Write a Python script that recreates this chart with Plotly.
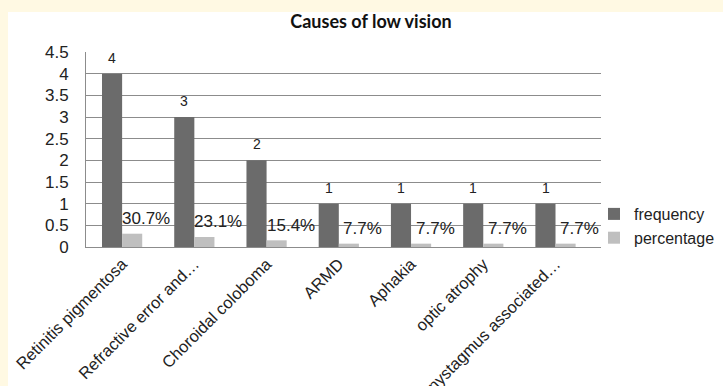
import plotly.graph_objects as go

categories = ["Retinitis pigmentosa", "Refractive error and…", "Choroidal coloboma",
              "ARMD", "Aphakia", "optic atrophy", "nystagmus associated…"]
frequency = [4, 3, 2, 1, 1, 1, 1]
percentage = [0.307, 0.231, 0.154, 0.077, 0.077, 0.077, 0.077]
percentage_labels = ["30.7%", "23.1%", "15.4%", "7.7%", "7.7%", "7.7%", "7.7%"]
y_ticks = [0, 0.5, 1, 1.5, 2, 2.5, 3, 3.5, 4, 4.5]

W, H = 723, 386
L, R, T, B = 86, 601, 52, 247
CREAM = "#fff9e3"

fig = go.Figure()
fig.add_trace(go.Bar(x=categories, y=frequency, name="frequency",
                     marker=dict(color="#6b6b6b", line=dict(width=0))))
fig.add_trace(go.Bar(x=categories, y=percentage, name="percentage",
                     marker=dict(color="#bfbfbf", line=dict(width=0))))

font = "Liberation Sans, Arial, sans-serif"
pw = R - L
ph = B - T
def px_x(x):
    return (x - L) / pw
def px_y(y):
    return (B - y) / ph

annotations = []
for c, v in zip(categories, frequency):
    annotations.append(dict(x=c, y=v, xref="x", yref="y", text=str(v), showarrow=False,
                            xshift=-10, yshift=16, yanchor="middle",
                            font=dict(family=font, size=14, color="#222")))
for c, v, t in zip(categories, percentage, percentage_labels):
    annotations.append(dict(x=c, y=v, xref="x", yref="y", text=t, showarrow=False,
                            xshift=24, yshift=15, yanchor="middle",
                            font=dict(family=font, size=17, color="#222")))

fig.update_layout(
    width=W, height=H,
    margin=dict(l=L, r=W - R, t=T, b=H - B, pad=0, autoexpand=False),
    paper_bgcolor="white",
    plot_bgcolor="white",
    barmode="group", bargap=0.443, bargroupgap=0,
    title=dict(text="<b>Causes of low vision</b>", x=371 / W, xref="container", xanchor="center",
               y=1 - 22 / H, yanchor="middle",
               font=dict(family="Lato, sans-serif", size=18, color="#111")),
    shapes=[
        dict(type="rect", xref="paper", yref="paper", x0=px_x(-5), x1=px_x(W + 5),
             y0=px_y(12), y1=px_y(-5), fillcolor=CREAM, line=dict(width=0), layer="above"),
        dict(type="rect", xref="paper", yref="paper", x0=px_x(-5), x1=px_x(8),
             y0=px_y(H + 5), y1=px_y(12), fillcolor=CREAM, line=dict(width=0), layer="above"),
    ],
    annotations=annotations,
    showlegend=True,
    legend=dict(x=px_x(594), xanchor="left", y=px_y(197), yanchor="top",
                font=dict(family=font, size=16, color="#222"), bgcolor="rgba(0,0,0,0)",
                itemwidth=30, tracegroupgap=0),
    xaxis=dict(tickangle=-45, showgrid=False, showline=True, linecolor="#8c8c8c",
               linewidth=1, ticks="", automargin=False,
               tickfont=dict(family=font, size=16.5, color="#222")),
    yaxis=dict(range=[0, 4.5], tickvals=y_ticks, ticktext=[f"{v:g}" for v in y_ticks],
               showgrid=True, gridcolor="#8c8c8c", gridwidth=1, showline=True,
               linecolor="#8c8c8c", linewidth=1, zeroline=False, automargin=False,
               ticks="outside", ticklen=13, tickcolor="rgba(0,0,0,0)",
               tickfont=dict(family=font, size=17, color="#222")),
)

fig.write_html("out.html")
